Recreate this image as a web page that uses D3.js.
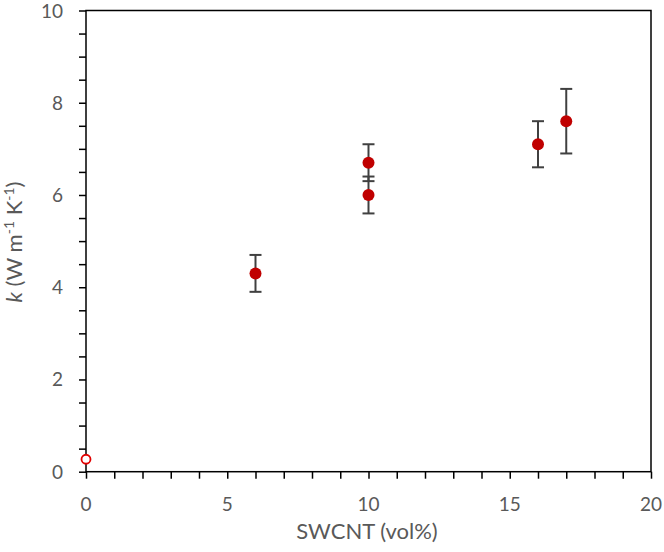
<!DOCTYPE html>
<html><head><meta charset="utf-8">
<script src="https://cdn.jsdelivr.net/npm/d3@7"></script>
<style>body{margin:0;background:#fff}</style>
</head><body>
<svg id="c" width="664" height="552"></svg>
<script>
const xVals = [6, 10, 10, 16, 17];
const yVals = [4.3, 6.7, 6.0, 7.1, 7.6];
const yErr = [0.4, 0.4, 0.4, 0.5, 0.7];
const hollowX = [0];
const hollowY = [0.27];
const xTicks = [0, 5, 10, 15, 20];
const yTicks = [0, 2, 4, 6, 8, 10];

const svg = d3.select("#c");
const L = 86, R = 651, T = 10.5, B = 471.7;
const x = d3.scaleLinear().domain([0, 20]).range([L, R]);
const y = d3.scaleLinear().domain([0, 10]).range([B, T]);
const font = "Lato, 'Open Sans', sans-serif";
const gray = "#595959";

svg.append("rect").attr("x", L).attr("y", T).attr("width", R - L).attr("height", B - T)
  .attr("fill", "none").attr("stroke", "#000").attr("stroke-width", 1.5);

const xa = svg.append("g").attr("transform", `translate(0,${B})`)
  .call(d3.axisBottom(x).tickValues(d3.range(0, 21, 1)).tickSize(7).tickFormat(""));
xa.select(".domain").remove();
xa.selectAll("line").attr("stroke", "#000").attr("stroke-width", 1.5);
svg.append("g").selectAll("text").data(xTicks).join("text")
  .attr("x", d => x(d)).attr("y", 511).attr("text-anchor", "middle")
  .attr("font-family", font).attr("font-size", 19).attr("fill", gray).text(d => d);

const ya = svg.append("g").attr("transform", `translate(${L},0)`)
  .call(d3.axisLeft(y).tickValues(d3.range(0, 10.01, 0.5)).tickSize(7).tickFormat(""));
ya.select(".domain").remove();
ya.selectAll("line").attr("stroke", "#000").attr("stroke-width", 1.5);
svg.append("g").selectAll("text").data(yTicks).join("text")
  .attr("x", 63).attr("y", d => y(d) + 7).attr("text-anchor", "end")
  .attr("font-family", font).attr("font-size", 19).attr("fill", gray).text(d => d);

svg.append("text").attr("x", 367).attr("y", 539).attr("text-anchor", "middle")
  .attr("font-family", font).attr("font-size", 22).attr("fill", gray).text("SWCNT (vol%)");
const yl = svg.append("text").attr("transform", "translate(22,242) rotate(-90)")
  .attr("text-anchor", "start").attr("font-family", font).attr("font-size", 22).attr("fill", gray);
yl.append("tspan").attr("font-style", "italic").text("k");
yl.append("tspan").text(" (W m");
yl.append("tspan").attr("font-size", 14).attr("dy", -8).text("-1");
yl.append("tspan").attr("dy", 8).text(" K");
yl.append("tspan").attr("font-size", 14).attr("dy", -8).text("-1");
yl.append("tspan").attr("dy", 8).text(")");
const len = yl.node().getComputedTextLength();
yl.attr("x", -len / 2);

const data = xVals.map((d, i) => ({x: d, y: yVals[i], e: yErr[i]}));
const eb = svg.append("g").attr("stroke", "#404040").attr("stroke-width", 2);
data.forEach(d => {
  eb.append("line").attr("x1", x(d.x)).attr("x2", x(d.x)).attr("y1", y(d.y - d.e)).attr("y2", y(d.y + d.e));
  [d.y - d.e, d.y + d.e].forEach(v => eb.append("line")
    .attr("x1", x(d.x) - 6).attr("x2", x(d.x) + 6).attr("y1", y(v)).attr("y2", y(v)));
});

svg.append("g").selectAll("circle").data(data).join("circle")
  .attr("cx", d => x(d.x)).attr("cy", d => y(d.y)).attr("r", 6).attr("fill", "#c00000");
svg.append("g").selectAll("circle").data(hollowX.map((d, i) => ({x: d, y: hollowY[i]}))).join("circle")
  .attr("cx", d => x(d.x)).attr("cy", d => y(d.y)).attr("r", 4.5)
  .attr("fill", "#fff").attr("stroke", "#e00000").attr("stroke-width", 1.8);
</script>
</body></html>
